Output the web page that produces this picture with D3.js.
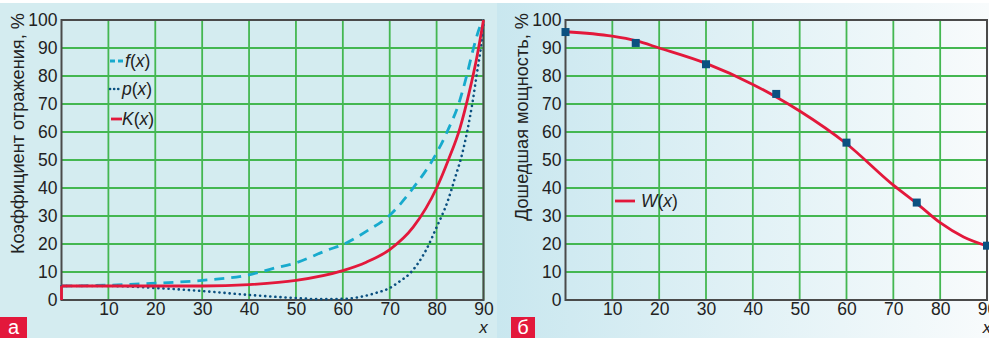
<!DOCTYPE html>
<html><head><meta charset="utf-8">
<script src="https://cdn.jsdelivr.net/npm/d3@7"></script>
<style>
html,body{margin:0;padding:0;background:#fff;}
svg{display:block;font-family:"Liberation Sans",Arial,Helvetica,sans-serif;}
</style></head>
<body>
<script>
// ---- data ----
const xTickValues = [10,20,30,40,50,60,70,80,90];
const yTickValues = [0,10,20,30,40,50,60,70,80,90,100];

// left chart (а)
const fX = [0,10,20,30,40,45,50,57,60,65,70,75,80,82.5,84.7,86.4,87.8,89.6,90];
const fY = [5,5.3,6,7,9,11.2,13.3,18,19.8,24.5,30.3,40,52.5,61,70,80,89.5,99,100];
const pX = [0,10,20,30,40,50,55,60,64,67,70,72,74.3,77.8,80,82.3,84,85.5,86.5,87.6,88.6,89.5,90];
const pY = [5,5,4.3,3.2,1.8,0.7,0.3,0.4,1.2,2.5,4.3,6.5,9.5,18,26,35,44,52.5,60,70,81,91,99];
const kX = [0,10,20,30,40,50,60,65,70,75,80,82.5,85,87,88.5,90];
const kY = [5,5,5,5,5.5,7,10.5,13.5,18,26,40,50,61.5,74.5,86,100];
const kBase = 0;

// right chart (б)
const wX = [0,10,15,20,30,40,45,50,60,70,75,80,85,90];
const wY = [95.8,94.2,92.6,90,84.5,77,72.5,67.5,55.8,41,34.5,27.6,22.5,19.3];
const wMarkX = [0,15,30,45,60,75,90];
const wMarkY = [95.7,91.8,84.2,73.6,56.2,34.8,19.4];

const leftTitle = "Коэффициент отражения, %";
const rightTitle = "Дошедшая мощность, %";

// ---- drawing ----
const W = 989, H = 338;
const svg = d3.select("body").append("svg").attr("width", W).attr("height", H);
const defs = svg.append("defs");
const grad = defs.append("linearGradient").attr("id","rg").attr("x1","0").attr("x2","1").attr("y1","0").attr("y2","0");
grad.append("stop").attr("offset","0").attr("stop-color","#c9e7ef");
grad.append("stop").attr("offset","1").attr("stop-color","#f8fbfc");

svg.append("rect").attr("width",W).attr("height",H).attr("fill","#fff");
svg.append("rect").attr("x",0).attr("y",3).attr("width",498).attr("height",H-3).attr("fill","#d4ecf0");
svg.append("rect").attr("x",497).attr("y",3).attr("width",W-497).attr("height",H-3).attr("fill","url(#rg)");

const gridColor = "#44b751";
const frameColor = "#4a4a4a";
const textColor = "#222";

function panel(x0, x1, y0, y1, title, titleX) {
  const x = d3.scaleLinear().domain([0,90]).range([x0,x1]);
  const y = d3.scaleLinear().domain([0,100]).range([y0,y1]);
  const g = svg.append("g");
  // grid
  g.append("g").selectAll("line.v").data(xTickValues).join("line")
    .attr("x1",d=>x(d)).attr("x2",d=>x(d)).attr("y1",y(0)).attr("y2",y(100))
    .attr("stroke",gridColor).attr("stroke-width",1.8);
  g.append("g").selectAll("line.h").data(yTickValues.filter(v=>v>0)).join("line")
    .attr("x1",x(0)).attr("x2",x(90)).attr("y1",d=>y(d)).attr("y2",d=>y(d))
    .attr("stroke",gridColor).attr("stroke-width",1.8);
  // frame
  g.append("rect").attr("x",x(0)).attr("y",y(100)).attr("width",x(90)-x(0)).attr("height",y(0)-y(100))
    .attr("fill","none").attr("stroke",frameColor).attr("stroke-width",2);
  // y axis labels
  const ya = d3.axisLeft(y).tickValues(yTickValues).tickSize(0).tickPadding(4);
  const yg = g.append("g").attr("transform",`translate(${x(0)},0)`).call(ya);
  yg.select(".domain").remove();
  yg.selectAll("text").attr("font-size",17.5).attr("fill",textColor).attr("font-family","inherit");
  // x axis labels
  const xa = d3.axisBottom(x).tickValues(xTickValues).tickSize(0).tickPadding(3);
  const xg = g.append("g").attr("transform",`translate(0,${y(0)})`).call(xa);
  xg.select(".domain").remove();
  xg.selectAll("text").attr("font-size",17.5).attr("fill",textColor).attr("font-family","inherit");
  // x label
  g.append("text").attr("x",x(90)).attr("y",y(0)+33).attr("text-anchor","middle")
    .attr("font-size",17).attr("font-style","italic").attr("fill",textColor).text("x");
  // y title
  g.append("text").attr("transform",`translate(${titleX},13) rotate(-90)`)
    .attr("text-anchor","end").attr("font-size",18.2).attr("fill",textColor).text(title);
  return {x,y,g};
}

const L = panel(61.5, 483.5, 300, 20, leftTitle, 24);
const R = panel(565.5, 987, 300, 20, rightTitle, 528);

function curve(P, xs, ys, curveType) {
  return d3.line().x((d,i)=>P.x(xs[i])).y((d,i)=>P.y(ys[i])).curve(curveType)(xs);
}

const red = "#e3183b", cyan = "#17aacd", navy = "#0b5080";

// f(x) dashed
L.g.append("path").attr("d",curve(L,fX,fY,d3.curveMonotoneX)).attr("fill","none")
  .attr("stroke",cyan).attr("stroke-width",2.8).attr("stroke-dasharray","10 7");
// p(x) dotted
L.g.append("path").attr("d",curve(L,pX,pY,d3.curveMonotoneX)).attr("fill","none")
  .attr("stroke",navy).attr("stroke-width",2.6).attr("stroke-linecap","round").attr("stroke-dasharray","0.1 5");
// K(x)
L.g.append("path").attr("d",curve(L,kX,kY,d3.curveMonotoneX)).attr("fill","none")
  .attr("stroke",red).attr("stroke-width",2.8);
L.g.append("line").attr("x1",L.x(kX[0])).attr("x2",L.x(kX[0])).attr("y1",L.y(kBase)).attr("y2",L.y(kY[0]))
  .attr("stroke",red).attr("stroke-width",2.8);

// legend left
function legendText(g, x, y, fn) {
  const t = g.append("text").attr("x",x).attr("y",y).attr("font-size",17.5).attr("fill",textColor);
  t.append("tspan").attr("font-style","italic").text(fn);
  t.append("tspan").text("(");
  t.append("tspan").attr("font-style","italic").text("x");
  t.append("tspan").text(")");
}
const lg = L.g.append("g");
lg.append("line").attr("x1",110).attr("x2",124).attr("y1",61).attr("y2",61)
  .attr("stroke",cyan).attr("stroke-width",2.8).attr("stroke-dasharray","5 3");
legendText(lg,125,67,"f");
lg.append("line").attr("x1",110).attr("x2",122).attr("y1",89).attr("y2",89)
  .attr("stroke",navy).attr("stroke-width",2.6).attr("stroke-linecap","round").attr("stroke-dasharray","0.1 4");
legendText(lg,122,95,"p");
lg.append("line").attr("x1",111).attr("x2",122).attr("y1",119).attr("y2",119)
  .attr("stroke",red).attr("stroke-width",2.8);
legendText(lg,122,125,"K");

// W(x)
R.g.append("path").attr("d",curve(R,wX,wY,d3.curveMonotoneX)).attr("fill","none")
  .attr("stroke",red).attr("stroke-width",2.8);
R.g.append("g").selectAll("rect").data(wMarkX).join("rect")
  .attr("x",(d,i)=>R.x(d)-4).attr("y",(d,i)=>R.y(wMarkY[i])-4).attr("width",8).attr("height",8)
  .attr("fill",navy);
const rl = R.g.append("g");
rl.append("line").attr("x1",615).attr("x2",635).attr("y1",201).attr("y2",201).attr("stroke",red).attr("stroke-width",2.8);
legendText(rl,641,207,"W");

// panel letters
function letter(x, w, txt) {
  svg.append("rect").attr("x",x).attr("y",317).attr("width",w).attr("height",21).attr("fill","#e3183b");
  svg.append("text").attr("x",x+w/2).attr("y",334).attr("text-anchor","middle")
    .attr("font-size",20).attr("fill","#fff").text(txt);
}
letter(0,27,"а");
letter(511,24,"б");
</script>
</body></html>
